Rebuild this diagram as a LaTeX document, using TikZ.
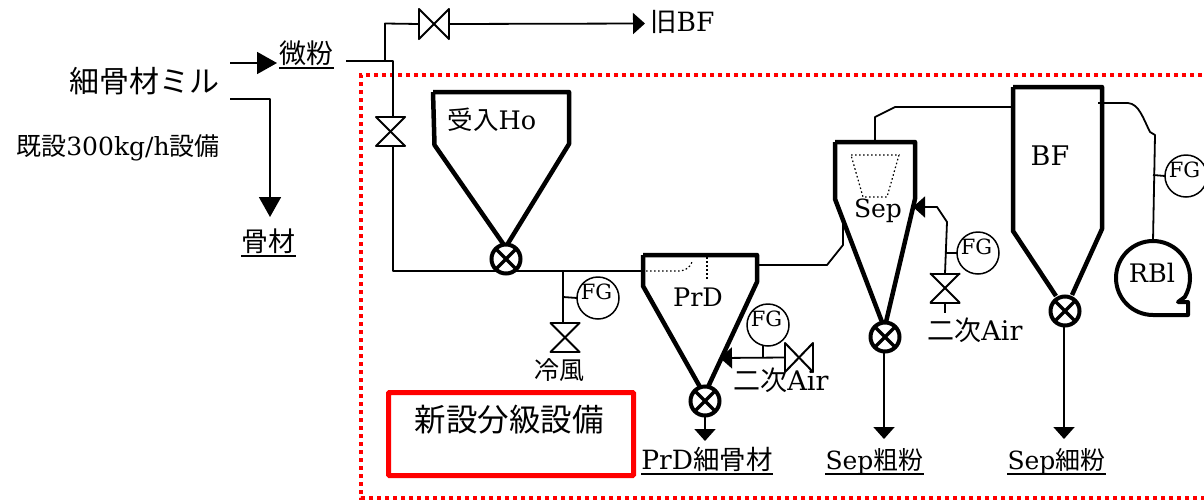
\documentclass[tikz,border=0pt]{standalone}
\usepackage{fontspec}
\setmainfont{DejaVu Serif}
\newfontfamily\cjk{Noto Sans CJK JP}
\usetikzlibrary{arrows.meta}
\newcommand{\fsz}[1]{\fontsize{#1}{#1}\selectfont}
\tikzset{
  x=1pt,y=-1pt,
  pipe/.style={draw=black,line width=1.8pt,line join=round},
  wall/.style={draw=black,line width=4.5pt,line join=round},
  flow/.style={pipe,-{Triangle[length=12pt,width=21pt]}},
  flowbig/.style={pipe,-{Triangle[length=20pt,width=22pt]}},
  innerdot/.style={draw=black,line width=1.2pt,dash pattern=on 1.6pt off 2.4pt},
  lbl/.style={inner sep=0pt,font=\fsz{25},text=black},
  ullabel/.style={inner sep=0pt,font=\fsz{25},text height=20pt,text depth=4pt},
  ulline/.style={draw=black,line width=2.4pt},
  vstroke/.style={draw=black,line width=2pt,line cap=round},
  hvalve/.style={minimum width=30pt,minimum height=30pt,inner sep=0pt,outer sep=0pt,
    append after command={
      (\tikzlastnode.north west) edge[vstroke] (\tikzlastnode.south east)
      (\tikzlastnode.south east) edge[vstroke] (\tikzlastnode.north east)
      (\tikzlastnode.north east) edge[vstroke] (\tikzlastnode.south west)
      (\tikzlastnode.south west) edge[vstroke] (\tikzlastnode.north west)}},
  vvalve/.style={minimum width=29pt,minimum height=29pt,inner sep=0pt,outer sep=0pt,
    append after command={
      (\tikzlastnode.north west) edge[vstroke] (\tikzlastnode.south east)
      (\tikzlastnode.south east) edge[vstroke] (\tikzlastnode.south west)
      (\tikzlastnode.south west) edge[vstroke] (\tikzlastnode.north east)
      (\tikzlastnode.north east) edge[vstroke] (\tikzlastnode.north west)}},
  rotary/.style={circle,draw=black,fill=white,line width=4pt,minimum size=29pt,inner sep=0pt,outer sep=0pt,
    path picture={\draw[black,line width=3.5pt]
      (path picture bounding box.north west)--(path picture bounding box.south east)
      (path picture bounding box.north east)--(path picture bounding box.south west);}},
  fg/.style={circle,draw=black,line width=1.5pt,minimum size=42pt,inner sep=0pt,outer sep=0pt,
    label={[font=\fsz{21},inner sep=0pt,yshift=6.5pt,xshift=-1.5pt]center:FG}},
}
\begin{document}
\begin{tikzpicture}
\useasboundingbox (0,0) rectangle (1204,501);
% red frames
\draw[red,line width=4pt,dash pattern=on 4pt off 4pt] (1210,75) -- (361,75) -- (361,498) -- (1210,498);
\node[draw=red,line width=5pt,rounded corners=1pt,minimum width=245pt,minimum height=83pt,inner sep=0pt] (newbox) at (511,434) {};
\node[lbl,font=\fsz{31.5}] (newtxt) at (509,420) {\cjk 新設分級設備};

% left block
\node[lbl,font=\fsz{30}] (mill) at (144,81) {\cjk 細骨材ミル};
\node[lbl,font=\fsz{25}] (exist) at (118,148) {{\cjk 既設}300kg/h{\cjk 設備}};
\coordinate (millA) at (230,63);
\coordinate (millTip) at (277,63);
\coordinate (millB) at (230,99);
\coordinate (millC) at (270,99);
\coordinate (millD) at (270,217);
\node[ullabel,font=\fsz{27},anchor=south] (fine) at (306.5,68) {\cjk 微粉};
\node[ullabel,font=\fsz{27},anchor=south] (agg) at (268.5,256) {\cjk 骨材};
\draw[ulline] (fine.south west) -- (fine.south east);
\draw[ulline] (agg.south west) -- (agg.south east);
\draw[flowbig] (millA) -- (millTip);
\draw[flowbig] (millB) -- (millC) -- (millD);

% fine powder line
\coordinate (fineS) at (346,61);
\coordinate (topJ) at (385,61);
\coordinate (topC) at (385,23.5);
\coordinate (mainC) at (393,61);
\coordinate (oldTip) at (645,23.5);
\node[hvalve] (v1) at (434,24) {};
\node[vvalve] (v2) at (390.5,131.5) {};
\node[lbl,font=\fsz{26.5},anchor=west] (oldbf) at (650,22) {{\cjk 旧}BF};
\draw[pipe] (fineS) -- (mainC) -- (mainC |- v2.north);
\draw[pipe] (topJ) -- (topC) -- (v1.west);
\draw[flow] (v1.east) -- (oldTip);

% receiving hopper
\draw[wall] (433,92) -- (569,92) -- (569,144) -- (507,245);
\draw[wall] (433,92) -- (434.5,145) -- (504,245);
\node[lbl,font=\fsz{25.5}] (hoTxt) at (492,120) {{\cjk 受入}Ho};
\coordinate (mainD) at (393,271);
\coordinate (prdIn) at (645,271);
\draw[pipe] (mainC |- v2.south) -- (mainD) -- (prdIn);
\node[rotary] (rv1) at (506,259) {};

% cold air
\coordinate (coldJ) at (563,271);
\node[vvalve] (v3) at (565,337.5) {};
\node[fg] (fg1) at (598,298) {};
\node[lbl] (coldTxt) at (559,370) {\cjk 冷風};
\coordinate (coldT) at (563,297);
\draw[pipe] (coldJ) -- (coldJ |- v3.north);
\draw[pipe] (coldT) -- (fg1.west);

% PrD
\draw[wall] (643,255) -- (757,255) -- (757,282) -- (708,387);
\draw[wall] (643,255) -- (643,286) -- (700,387);
\draw[innerdot] (646,271) -- (680,271) .. controls (687,270) and (690,267) .. (692,262);
\draw[innerdot] (707,253) -- (707,280);
\node[lbl,font=\fsz{25.5}] (prdTxt) at (698,297) {PrD};
\node[rotary] (rv2) at (705,401) {};
\node[ullabel,font=\fsz{26.5},anchor=south] (prdOut) at (707,474) {PrD{\cjk 細骨材}};
\draw[ulline] (prdOut.south west) -- (prdOut.south east);
\coordinate (prdArrow) at (705,441);
\draw[flow] (rv2.south) -- (prdArrow);

% PrD secondary air
\node[hvalve,minimum width=28pt,minimum height=29pt] (v4) at (799,357.5) {};
\node[fg] (fg2) at (768,325) {};
\coordinate (prdAir) at (720,358);
\coordinate (prdAirJ) at (763,358);
\coordinate (prdAirT) at (763,345);
\draw[flow] (v4.west) -- (prdAir);
\draw[pipe] (prdAirJ) -- (prdAirT);
\node[lbl,font=\fsz{27}] (air1) at (781,380) {{\cjk 二次}Air};

% PrD to Sep
\coordinate (prdOutA) at (755,265);
\coordinate (prdOutB) at (827,265);
\coordinate (prdOutC) at (843,245);
\coordinate (prdOutD) at (843,223);
\draw[pipe] (prdOutA) -- (prdOutB) -- (prdOutC) -- (prdOutD);

% Sep
\draw[wall] (835,142) -- (915,142) -- (915,199) -- (886,322);
\draw[wall] (835,142) -- (835,199) -- (882,322);
\draw[innerdot] (851,155) -- (899,155) -- (887,197) -- (863,197) -- cycle;
\node[lbl] (sepTxt) at (878,211) {Sep};
\node[rotary] (rv3) at (885,337) {};
\coordinate (sepArrow) at (884,439);
\draw[flow] (rv3.south -| sepArrow) -- (sepArrow);
\node[ullabel,anchor=south] (sepOut) at (874.5,474) {Sep{\cjk 粗粉}};
\draw[ulline] (sepOut.south west) -- (sepOut.south east);

% Sep secondary air
\node[vvalve] (v5) at (945,288) {};
\node[fg] (fg3) at (978,253) {};
\coordinate (sepAirA) at (947,222);
\coordinate (sepAirB) at (937,207);
\coordinate (sepAirC) at (913,207);
\coordinate (sepAirT) at (945,253);
\coordinate (sepAirU) at (945,313);
\draw[flow] (v5.north) -- (sepAirA) -- (sepAirB) -- (sepAirC);
\draw[pipe] (sepAirT) -- (fg3.west);
\draw[pipe] (v5.south) -- (sepAirU);
\node[lbl,font=\fsz{27}] (air2) at (975,330) {{\cjk 二次}Air};

% Sep to BF
\coordinate (sepTop) at (875,142);
\coordinate (sepUp) at (875,117);
\coordinate (sepBend) at (895,107);
\coordinate (bfIn) at (1013,107);
\draw[pipe] (sepTop) -- (sepUp) -- (sepBend) -- (bfIn);

% BF
\draw[wall] (1013,87) -- (1102,87) -- (1102,229) -- (1072,295);
\draw[wall] (1013,87) -- (1013,231) -- (1056,296);
\node[lbl,font=\fsz{27}] (bfTxt) at (1050,156) {BF};
\node[rotary] (rv4) at (1065,311) {};
\coordinate (bfArrow) at (1064,439);
\draw[flow] (rv4.south -| bfArrow) -- (bfArrow);
\node[ullabel,anchor=south] (bfOut) at (1056.5,474) {Sep{\cjk 細粉}};
\draw[ulline] (bfOut.south west) -- (bfOut.south east);

% blower
\node[fg] (fg4) at (1186,176) {};
\node[circle,minimum size=74pt,inner sep=0pt,outer sep=0pt] (rbl) at (1153,278) {};
\coordinate (rblBottom) at (1153,315);
\coordinate (rblNotch) at (1178,302);
\coordinate (rblTailT) at (1188,302);
\coordinate (rblTailB) at (1188,315);
\draw[wall,line width=4pt] (rblBottom) arc[start angle=270,end angle=-31,radius=37pt] -- (rblNotch) -- (rblTailT) -- (rblTailB) -- cycle;
\node[lbl,font=\fsz{25.5}] (rblTxt) at (1152,273) {RBl};
\coordinate (bfOutA) at (1098,103);
\coordinate (bfOutB) at (1128,103);
\coordinate (bfOutD) at (1150,132);
\coordinate (bfOutE) at (1155,135);
\coordinate (bfT) at (1153,175);
\draw[pipe] (bfOutA) -- (bfOutB) .. controls (1139,104) and (1143,118) .. (bfOutD) -- (bfOutE) -- (rbl.north);
\draw[pipe] (bfT) -- (fg4.west);
\end{tikzpicture}
\end{document}
